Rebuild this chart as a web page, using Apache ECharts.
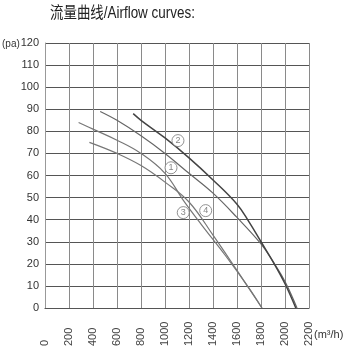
<!DOCTYPE html>
<html><head><meta charset="utf-8">
<script src="https://cdn.jsdelivr.net/npm/echarts@6/dist/echarts.min.js"></script>
<style>html,body{margin:0;padding:0;background:#fff}#c{width:355px;height:355px}</style>
</head><body><div id="c"></div>
<script>
var titleText = '流量曲线/Airflow curves:';
var xTicks = [0,200,400,600,800,1000,1200,1400,1600,1800,2000,2200];
var yTicks = [0,10,20,30,40,50,60,70,80,90,100,110,120];
var curve1 = [[460,89],[600,85],[800,78],[1000,70],[1200,61],[1400,52],[1600,41],[1800,29],[1900,21],[2000,12],[2100,0]];
var curve2 = [[735,88],[800,85],[1000,77],[1200,68],[1400,58],[1600,47],[1700,39],[1800,30],[1900,21],[2000,11],[2090,0]];
var curve3 = [[280,84],[400,81],[600,76],[800,70],[1000,61],[1150,49],[1300,38],[1500,24],[1700,9],[1808,0]];
var curve4 = [[370,75],[600,70],[800,64.5],[1000,57],[1200,48],[1400,33],[1600,17],[1808,0]];
var labelNames = ['1','2','3','4'];
var labelPos = [[1050,63.5],[1108,75.8],[1152,43.2],[1339,44.1]];

var chart = echarts.init(document.getElementById('c'));
var numFont = "'Liberation Sans', Arial, sans-serif";
function lineSeries(data, color, w) {
  return {type:'line', data:data, smooth:0.4, showSymbol:false, silent:true,
    lineStyle:{color:color, width:w}, z:3};
}
chart.setOption({
  animation:false,
  grid:{left:45, top:43, right:46, bottom:47},
  xAxis:{type:'value', min:0, max:2200, interval:200,
    axisLine:{show:true, lineStyle:{color:'#555', width:1.2}},
    axisTick:{show:false},
    splitLine:{show:true, lineStyle:{color:'#8a8a8a', width:1}},
    axisLabel:{rotate:90, align:'left', verticalAlign:'middle', margin:38, fontSize:11, color:'#444', fontFamily:numFont,
      customValues: xTicks, showMinLabel:true, showMaxLabel:true,
      formatter:function(v){return String(v);}}},
  yAxis:{type:'value', min:0, max:120, interval:10,
    axisLine:{show:true, lineStyle:{color:'#999', width:1}},
    axisTick:{show:false},
    splitLine:{show:true, lineStyle:{color:'#555', width:1}},
    axisLabel:{margin:6, fontSize:11, color:'#333', fontFamily:numFont,
      customValues: yTicks,
      formatter:function(v){return String(v);}}},
  graphic:[
    {type:'text', x:50, y:6, scaleX:0.84, style:{text:titleText, fill:'#222', font:"16px 'Liberation Sans', 'Noto Sans CJK SC', sans-serif"}},
    {type:'text', x:2, y:39, style:{text:'(pa)', fill:'#333', font:"10px 'Liberation Sans', sans-serif"}},
    {type:'text', x:314, y:329, style:{text:'(m³/h)', fill:'#333', font:"11px 'Liberation Sans', sans-serif"}}
  ],
  series:[
    lineSeries(curve1,'#666',1.2),
    lineSeries(curve2,'#444',1.5),
    lineSeries(curve3,'#777',1.2),
    lineSeries(curve4,'#777',1.2),
    {type:'scatter', silent:true, z:5,
      data: labelPos.map(function(p,i){return {value:p, name:labelNames[i]};}),
      symbol:'circle', symbolSize:12,
      itemStyle:{color:'#fff', borderColor:'#777', borderWidth:1},
      label:{show:true, position:'inside', formatter:function(p){return p.name;}, fontSize:9, color:'#666', fontFamily:numFont}}
  ]
});
</script></body></html>
